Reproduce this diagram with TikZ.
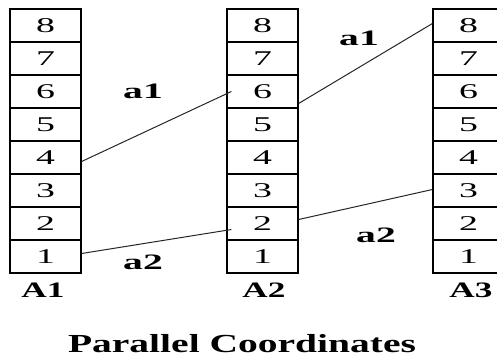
\documentclass[tikz,border=0pt]{standalone}
\usepackage{fontspec}
\setmainfont{Liberation Serif}
\begin{document}
\begin{tikzpicture}[x=1pt,y=-1pt,
  cell/.style={draw,line width=1.2pt,minimum width=71pt,minimum height=33pt,inner sep=0pt,
    font=\fontsize{21}{21}\selectfont},
  conn/.style={line width=1pt,draw=black!85},
  lbl/.style={inner sep=0pt,font=\fontsize{22}{22}\selectfont\bfseries},
  axlbl/.style={inner sep=0pt,font=\fontsize{22}{22}\selectfont\bfseries},
  ttl/.style={inner sep=0pt,anchor=base,font=\fontsize{26}{26}\selectfont\bfseries}]
\newcommand{\sx}[2]{\scalebox{#1}[1]{#2}}
\useasboundingbox (0,0) rectangle (497,357);
\begin{scope}
\clip (0,0) rectangle (497,357);
\foreach \c/\x in {1/45.5,2/262.5,3/468.5}{
  \foreach \r in {1,...,8}{
    \node[cell] (c\c-\r) at (\x,{273-33*(\r-0.5)}) {\sx{1.8}{\r}};
  }
}
\end{scope}
\node[axlbl] (A1) at (43,290) {\sx{1.6}{A1}};
\node[axlbl] (A2) at (264,290) {\sx{1.6}{A2}};
\node[axlbl] (A3) at (471,290) {\sx{1.6}{A3}};
\node[ttl] (title) at (242,352) {\sx{1.52}{Parallel Coordinates}};
\node[lbl] (l1) at (143,91) {\sx{1.8}{a1}};
\node[lbl] (l2) at (143,262) {\sx{1.8}{a2}};
\node[lbl] (l3) at (359,38) {\sx{1.8}{a1}};
\node[lbl] (l4) at (376,235) {\sx{1.8}{a2}};
\draw[conn] ([yshift=-4pt]c1-4.east) -- ([xshift=5pt]c2-6.west);
\draw[conn] ([yshift=-12pt]c2-6.east) -- ([yshift=2pt]c3-8.west);
\draw[conn] ([yshift=3pt]c1-1.east) -- ([xshift=5pt,yshift=-6pt]c2-2.west);
\draw[conn] ([yshift=4pt]c2-2.east) -- ([yshift=1pt]c3-3.west);
\end{tikzpicture}
\end{document}
